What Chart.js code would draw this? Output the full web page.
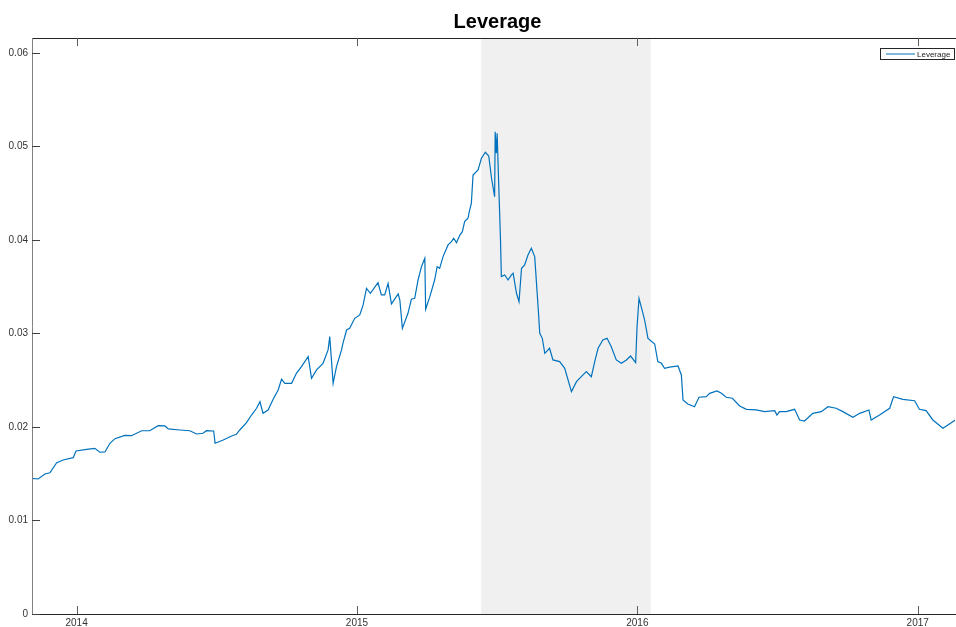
<!DOCTYPE html>
<html>
<head>
<meta charset="utf-8">
<title>Leverage</title>
<script src="https://cdn.jsdelivr.net/npm/chart.js@4.4.1/dist/chart.umd.min.js"></script>
<style>
  html, body { margin: 0; padding: 0; background: #fff; }
  canvas { display: block; }
</style>
</head>
<body>
<canvas id="leverageChart" width="956" height="627"></canvas>
<script>
// Leverage series, time as fractional years
const years = [
  2013.841, 2013.863, 2013.887, 2013.905, 2013.929, 2013.952, 2013.988, 2013.998,
  2014.036, 2014.065, 2014.083, 2014.101, 2014.119, 2014.137, 2014.172, 2014.196,
  2014.232, 2014.261, 2014.291, 2014.315, 2014.327, 2014.368, 2014.404, 2014.428,
  2014.451, 2014.463, 2014.489, 2014.494, 2014.523, 2014.553, 2014.570, 2014.582,
  2014.606, 2014.624, 2014.642, 2014.654, 2014.665, 2014.683, 2014.701, 2014.719,
  2014.731, 2014.743, 2014.767, 2014.784, 2014.802, 2014.826, 2014.838, 2014.856,
  2014.879, 2014.897, 2014.903, 2014.915, 2014.927, 2014.945, 2014.950, 2014.963,
  2014.974, 2014.992, 2015.010, 2015.022, 2015.034, 2015.048, 2015.075, 2015.087,
  2015.099, 2015.111, 2015.123, 2015.147, 2015.153, 2015.162, 2015.182, 2015.194,
  2015.206, 2015.218, 2015.230, 2015.242, 2015.245, 2015.260, 2015.277, 2015.286,
  2015.295, 2015.307, 2015.325, 2015.337, 2015.345, 2015.355, 2015.367, 2015.376,
  2015.384, 2015.396, 2015.402, 2015.408, 2015.414, 2015.432, 2015.444, 2015.458,
  2015.470, 2015.480, 2015.491, 2015.493, 2015.497, 2015.500, 2015.507, 2015.512,
  2015.515, 2015.527, 2015.539, 2015.551, 2015.557, 2015.569, 2015.578, 2015.587,
  2015.598, 2015.610, 2015.622, 2015.634, 2015.646, 2015.652, 2015.661, 2015.670,
  2015.687, 2015.699, 2015.723, 2015.741, 2015.765, 2015.783, 2015.800, 2015.818,
  2015.836, 2015.848, 2015.860, 2015.877, 2015.892, 2015.907, 2015.925, 2015.943,
  2015.961, 2015.976, 2015.994, 2015.999, 2016.006, 2016.020, 2016.026, 2016.038,
  2016.062, 2016.073, 2016.086, 2016.097, 2016.115, 2016.145, 2016.157, 2016.163,
  2016.180, 2016.204, 2016.220, 2016.246, 2016.258, 2016.284, 2016.300, 2016.317,
  2016.339, 2016.365, 2016.389, 2016.424, 2016.454, 2016.490, 2016.498, 2016.507,
  2016.531, 2016.561, 2016.579, 2016.596, 2016.626, 2016.656, 2016.680, 2016.709,
  2016.733, 2016.769, 2016.793, 2016.826, 2016.834, 2016.864, 2016.900, 2016.914,
  2016.947, 2016.989, 2017.006, 2017.030, 2017.054, 2017.090, 2017.113, 2017.135
];

const leverage = [
  0.01451, 0.01444, 0.01497, 0.01510, 0.01618, 0.01647, 0.01672, 0.01743,
  0.01761, 0.01772, 0.01730, 0.01733, 0.01826, 0.01875, 0.01911, 0.01907,
  0.01960, 0.01960, 0.02014, 0.02011, 0.01979, 0.01968, 0.01960, 0.01925,
  0.01933, 0.01960, 0.01957, 0.01826, 0.01861, 0.01904, 0.01922, 0.01968,
  0.02046, 0.02128, 0.02200, 0.02270, 0.02146, 0.02182, 0.02296, 0.02396,
  0.02510, 0.02467, 0.02467, 0.02574, 0.02645, 0.02752, 0.02521, 0.02610,
  0.02681, 0.02824, 0.02966, 0.02467, 0.02645, 0.02824, 0.02895, 0.03037,
  0.03055, 0.03162, 0.03198, 0.03305, 0.03483, 0.03430, 0.03543, 0.03412,
  0.03412, 0.03536, 0.03316, 0.03422, 0.03358, 0.03055, 0.03216, 0.03366,
  0.03376, 0.03572, 0.03714, 0.03804, 0.03259, 0.03394, 0.03572, 0.03714,
  0.03697, 0.03822, 0.03947, 0.03982, 0.04018, 0.03971, 0.04053, 0.04089,
  0.04196, 0.04232, 0.04321, 0.04392, 0.04695, 0.04749, 0.04874, 0.04938,
  0.04898, 0.04660, 0.04463, 0.05158, 0.04927, 0.05141, 0.04463, 0.04000,
  0.03608, 0.03626, 0.03572, 0.03626, 0.03644, 0.03430, 0.03340, 0.03697,
  0.03733, 0.03840, 0.03911, 0.03822, 0.03287, 0.03002, 0.02948, 0.02788,
  0.02842, 0.02717, 0.02699, 0.02628, 0.02378, 0.02485, 0.02538, 0.02592,
  0.02538, 0.02699, 0.02842, 0.02930, 0.02948, 0.02859, 0.02717, 0.02681,
  0.02717, 0.02759, 0.02688, 0.03073, 0.03376, 0.03216, 0.03144, 0.02948,
  0.02888, 0.02699, 0.02681, 0.02628, 0.02640, 0.02652, 0.02556, 0.02289,
  0.02246, 0.02217, 0.02318, 0.02324, 0.02360, 0.02385, 0.02360, 0.02318,
  0.02307, 0.02225, 0.02189, 0.02182, 0.02164, 0.02175, 0.02128, 0.02164,
  0.02164, 0.02189, 0.02075, 0.02064, 0.02146, 0.02164, 0.02217, 0.02200,
  0.02164, 0.02104, 0.02146, 0.02182, 0.02075, 0.02128, 0.02200, 0.02324,
  0.02296, 0.02281, 0.02189, 0.02175, 0.02075, 0.01986, 0.02032, 0.02075
];

// shaded period
const shadeStart = 2015.443;
const shadeEnd = 2016.048;

const xTicks = [2014, 2015, 2016, 2017];
const yTicks = [0, 0.01, 0.02, 0.03, 0.04, 0.05, 0.06];
const xRange = [2013.841, 2017.133];
const yRange = [0, 0.0616];

const lineBlue = '#0072bd';
const fontFamily = '"Liberation Sans", Arial, sans-serif';

// background, shaded band, frame with inward ticks, title and legend
const framePlugin = {
  id: 'frame',
  beforeDraw(chart) {
    const ctx = chart.ctx;
    ctx.save();
    ctx.fillStyle = '#fff';
    ctx.fillRect(0, 0, chart.width, chart.height);
    ctx.restore();
  },
  beforeDatasetsDraw(chart) {
    const { ctx, chartArea: a, scales: { x } } = chart;
    const x0 = x.getPixelForValue(shadeStart);
    const x1 = x.getPixelForValue(shadeEnd);
    ctx.save();
    ctx.fillStyle = '#f0f0f0';
    ctx.fillRect(x0, a.top, x1 - x0, a.bottom - a.top);
    ctx.restore();
  },
  afterDraw(chart) {
    const { ctx, chartArea: a, scales: { x, y } } = chart;
    ctx.save();
    ctx.lineWidth = 1;

    // top and bottom borders
    ctx.strokeStyle = '#262626';
    ctx.beginPath();
    ctx.moveTo(a.left, a.top + 0.5);
    ctx.lineTo(a.right + 1, a.top + 0.5);
    ctx.moveTo(a.left, a.bottom + 0.5);
    ctx.lineTo(a.right + 1, a.bottom + 0.5);
    ctx.stroke();

    // left axis
    ctx.strokeStyle = '#808080';
    ctx.beginPath();
    ctx.moveTo(a.left + 0.5, a.top);
    ctx.lineTo(a.left + 0.5, a.bottom + 1);
    ctx.stroke();

    // y ticks pointing inward
    ctx.strokeStyle = '#404040';
    ctx.beginPath();
    yTicks.forEach(v => {
      const py = Math.round(y.getPixelForValue(v)) + 0.5;
      ctx.moveTo(a.left, py);
      ctx.lineTo(a.left + 8, py);
    });
    ctx.stroke();

    // x ticks on top and bottom, pointing inward
    ctx.strokeStyle = '#606060';
    ctx.beginPath();
    xTicks.forEach(v => {
      const px = Math.round(x.getPixelForValue(v)) + 0.5;
      ctx.moveTo(px, a.bottom);
      ctx.lineTo(px, a.bottom - 8);
      ctx.moveTo(px, a.top);
      ctx.lineTo(px, a.top + 8);
    });
    ctx.stroke();

    // title
    ctx.fillStyle = '#000';
    ctx.font = 'bold 20px ' + fontFamily;
    ctx.textAlign = 'center';
    ctx.textBaseline = 'middle';
    ctx.fillText('Leverage', (a.left + a.right) / 2 + 4, 22);

    // legend box
    const lx = 880, ly = 48, lw = 74, lh = 11;
    ctx.fillStyle = '#fff';
    ctx.fillRect(lx, ly, lw, lh);
    ctx.strokeStyle = '#262626';
    ctx.strokeRect(lx + 0.5, ly + 0.5, lw, lh);
    ctx.strokeStyle = lineBlue;
    ctx.beginPath();
    ctx.moveTo(lx + 6, ly + 6);
    ctx.lineTo(lx + 35, ly + 6);
    ctx.stroke();
    ctx.fillStyle = '#222';
    ctx.font = '8px ' + fontFamily;
    ctx.textAlign = 'left';
    ctx.fillText('Leverage', lx + 37, ly + 6.5);

    ctx.restore();
  }
};

new Chart(document.getElementById('leverageChart'), {
  type: 'line',
  data: {
    datasets: [{
      label: 'Leverage',
      data: years.map((t, i) => ({ x: t, y: leverage[i] })),
      borderColor: lineBlue,
      borderWidth: 1.2,
      pointRadius: 0,
      tension: 0,
      fill: false
    }]
  },
  options: {
    responsive: false,
    animation: false,
    layout: { padding: { top: 38, right: 1, left: 0, bottom: 0 } },
    plugins: {
      legend: { display: false },
      title: { display: false },
      tooltip: { enabled: false }
    },
    scales: {
      x: {
        type: 'linear',
        min: xRange[0],
        max: xRange[1],
        grid: { display: false, drawTicks: false },
        border: { display: false },
        afterBuildTicks: scale => { scale.ticks = xTicks.map(v => ({ value: v })); },
        afterFit: scale => { scale.height = 13; },
        ticks: {
          padding: 3,
          maxRotation: 0,
          color: '#333',
          font: { family: fontFamily, size: 10 },
          callback: v => String(v)
        }
      },
      y: {
        min: yRange[0],
        max: yRange[1],
        grid: { display: false, drawTicks: false },
        border: { display: false },
        afterBuildTicks: scale => { scale.ticks = yTicks.map(v => ({ value: v })); },
        afterFit: scale => { scale.width = 32; },
        ticks: {
          padding: 4,
          color: '#333',
          font: { family: fontFamily, size: 10 },
          callback: v => String(Math.round(v * 100) / 100)
        }
      }
    }
  },
  plugins: [framePlugin]
});
</script>
</body>
</html>
